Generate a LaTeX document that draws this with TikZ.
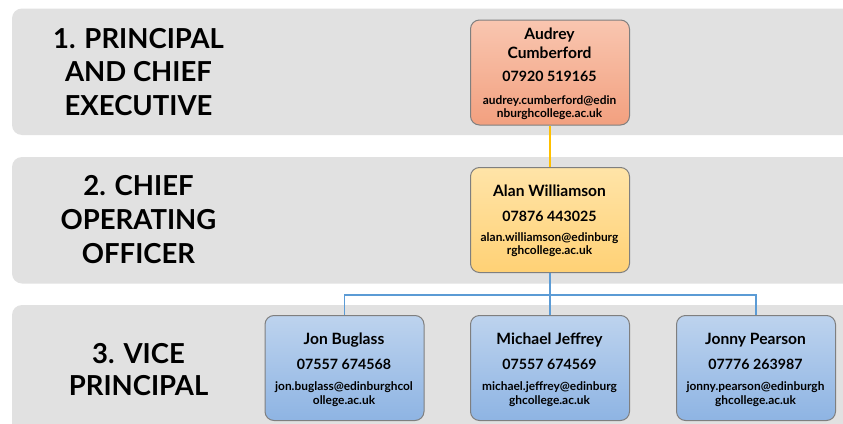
\documentclass[tikz,border=0pt]{standalone}
\usepackage{fontspec}
\setmainfont{Lato}
\usetikzlibrary{calc}
\definecolor{band}{HTML}{E1E1E1}
\definecolor{orT}{HTML}{F9C6B0}
\definecolor{orB}{HTML}{F2A07F}
\definecolor{yeT}{HTML}{FFE4A8}
\definecolor{yeB}{HTML}{FFD175}
\definecolor{blT}{HTML}{BDD3EE}
\definecolor{blB}{HTML}{8EB4E3}
\definecolor{gold}{HTML}{FFC000}
\definecolor{blueline}{HTML}{5B9BD5}
\definecolor{edge}{HTML}{7F7F7F}
\tikzset{
  bandbox/.style={fill=band, draw=none, rounded corners=10pt},
  person/.style={draw=edge, line width=1pt, rounded corners=9pt, minimum width=159pt, minimum height=105pt, inner sep=0pt, anchor=north west},
  orbox/.style={person, top color=orT, bottom color=orB},
  yebox/.style={person, top color=yeT, bottom color=yeB},
  blbox/.style={person, top color=blT, bottom color=blB},
  lab/.style={font=\fontsize{27.5}{33}\selectfont\bfseries, anchor=base, inner sep=0pt},
  nm/.style={font=\fontsize{15.6}{17}\selectfont\bfseries, anchor=base, inner sep=0pt},
  ph/.style={font=\fontsize{14.2}{17}\selectfont\bfseries, anchor=base, inner sep=0pt},
  em/.style={font=\fontsize{11.9}{13}\selectfont\bfseries, anchor=base, inner sep=0pt},
  conn/.style={line width=1.6pt}
}
\begin{document}
\begin{tikzpicture}[x=1pt,y=-1pt]
\useasboundingbox (0,0) rectangle (843,423);
\fill[white] (0,0) rectangle (843,423);
% bands
\begin{scope}
\clip (0,0) rectangle (843,423);
\fill[bandbox] (12,8.5) rectangle (860,135);
\fill[bandbox] (12,157) rectangle (860,283.5);
\fill[bandbox] (12,305) rectangle (860,450);
\end{scope}
% level labels
\node[lab] (l1a) at (138.5,48.3) {1. PRINCIPAL};
\node[lab] (l1b) at (138.5,81.7) {AND CHIEF};
\node[lab] (l1c) at (138.5,115) {EXECUTIVE};
\node[lab] (l2a) at (138.5,195) {2. CHIEF};
\node[lab] (l2b) at (138.5,229) {OPERATING};
\node[lab] (l2c) at (138.5,263.3) {OFFICER};
\node[lab] (l3a) at (138.5,363.3) {3. VICE};
\node[lab] (l3b) at (138.5,395.5) {PRINCIPAL};
% boxes
\node[orbox] (b1) at (470,19.5) {};
\node[yebox] (b2) at (470,167) {};
\node[blbox] (b3) at (264.5,315) {};
\node[blbox] (b4) at (470,315) {};
\node[blbox] (b5) at (676,315) {};
% connectors
\draw[conn, gold] (b1.south) -- (b2.north);
\coordinate (j) at ($(b2.south)+(0,22)$);
\draw[conn, blueline] (b2.south) -- (j);
\draw[conn, blueline] (b3.north) |- (j) -| (b5.north);
\draw[conn, blueline] (j) -- (b4.north);
% box 1 text
\node[nm] (t1a) at (549.5,39.3) {Audrey};
\node[nm] (t1b) at (549.5,58.3) {Cumberford};
\node[ph] (t1c) at (549.5,81.7) {07920 519165};
\node[em] (t1d) at (549.5,104.3) {audrey.cumberford@edin};
\node[em] (t1e) at (549.5,117) {nburghcollege.ac.uk};
% box 2 text
\node[nm] (t2a) at (549.5,196.7) {Alan Williamson};
\node[ph] (t2b) at (549.5,221) {07876 443025};
\node[em] (t2c) at (549.5,241.3) {alan.williamson@edinburg};
\node[em] (t2d) at (549.5,254.5) {rghcollege.ac.uk};
% box 3 text
\node[nm] (t3a) at (344,344) {Jon Buglass};
\node[ph] (t3b) at (344,369.3) {07557 674568};
\node[em] (t3c) at (344,390.7) {jon.buglass@edinburghcol};
\node[em] (t3d) at (344,404) {ollege.ac.uk};
% box 4 text
\node[nm] (t4a) at (549.5,344) {Michael Jeffrey};
\node[ph] (t4b) at (549.5,369.3) {07557 674569};
\node[em] (t4c) at (549.5,390.7) {michael.jeffrey@edinburg};
\node[em] (t4d) at (549.5,404) {ghcollege.ac.uk};
% box 5 text
\node[nm] (t5a) at (755.5,344) {Jonny Pearson};
\node[ph] (t5b) at (755.5,369.3) {07776 263987};
\node[em] (t5c) at (755.5,390.7) {jonny.pearson@edinburgh};
\node[em] (t5d) at (755.5,404) {ghcollege.ac.uk};
\end{tikzpicture}
\end{document}
